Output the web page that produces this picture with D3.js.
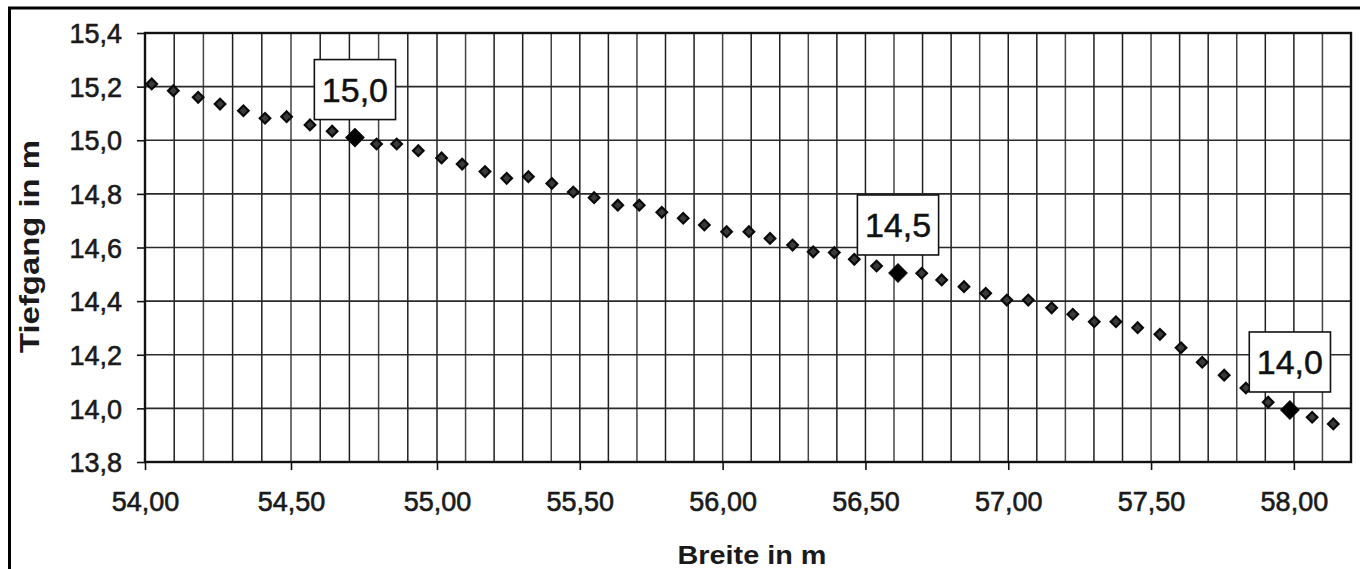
<!DOCTYPE html>
<html><head><meta charset="utf-8">
<script src="https://cdn.jsdelivr.net/npm/d3@7"></script>
<style>html,body{margin:0;padding:0;background:#fff;} svg{display:block;}</style>
</head><body>
<svg id="c" width="1360" height="569"></svg>
<script>
// ---- data ----
const breite = [54.023,54.097,54.182,54.257,54.337,54.411,54.485,54.565,54.641,54.719,
  54.793,54.862,54.936,55.016,55.088,55.168,55.244,55.320,55.402,55.477,
  55.550,55.633,55.708,55.787,55.862,55.936,56.014,56.092,56.166,56.245,
  56.317,56.391,56.461,56.539,56.614,56.697,56.767,56.845,56.921,56.995,
  57.070,57.152,57.226,57.301,57.377,57.453,57.531,57.605,57.679,57.756,
  57.832,57.910,57.986,58.064,58.138];
const tiefgang = [15.210,15.185,15.160,15.135,15.110,15.082,15.088,15.057,15.034,15.010,
  14.986,14.986,14.961,14.934,14.911,14.883,14.858,14.864,14.839,14.807,
  14.786,14.758,14.758,14.731,14.709,14.684,14.659,14.659,14.634,14.609,
  14.584,14.581,14.556,14.531,14.505,14.504,14.479,14.454,14.429,14.404,
  14.404,14.375,14.351,14.323,14.323,14.301,14.276,14.226,14.172,14.124,
  14.076,14.023,13.994,13.967,13.942];
const labelIndex = [9, 34, 52];
const labelText = ["15,0", "14,5", "14,0"];
const xTicks = [54.0, 54.5, 55.0, 55.5, 56.0, 56.5, 57.0, 57.5, 58.0];
const yTicks = [13.8, 14.0, 14.2, 14.4, 14.6, 14.8, 15.0, 15.2, 15.4];
const xGridStep = 0.1;
const xTitle = "Breite in m";
const yTitle = "Tiefgang in m";

// ---- layout ----
const L = 145, R = 1351, T = 33, B = 462;
const FONT = "'Liberation Sans', Arial, Helvetica, sans-serif";
const svg = d3.select("#c");

// outer frame (page border)
svg.append("rect").attr("x", 9.5).attr("y", 8).attr("width", 1400).attr("height", 600)
  .attr("fill", "#fff").attr("stroke", "#000").attr("stroke-width", 3);

const x = d3.scaleLinear().domain([54, 55, 58.2]).range([L, 437, R]);
const y = d3.scaleLinear().domain([13.8, 15.4]).range([B, T]);

const g = svg.append("g");

// vertical grid every 0.1
const xGrid = d3.range(Math.round((54 + xGridStep) * 10), Math.round(58.2 * 10)).map(v => v / 10);
g.append("g").selectAll("line").data(xGrid).join("line")
  .attr("x1", d => x(d)).attr("x2", d => x(d)).attr("y1", T).attr("y2", B)
  .attr("stroke", (d, i) => i % 3 === 1 ? "#444" : "#1f1f1f").attr("stroke-width", 1.5);

// horizontal grid
g.append("g").selectAll("line").data(yTicks).join("line")
  .attr("x1", L).attr("x2", R).attr("y1", d => y(d)).attr("y2", d => y(d))
  .attr("stroke", "#2a2a2a").attr("stroke-width", 1.7);

// axes
const fmtX = d => d.toFixed(2).replace(".", ",");
const fmtY = d => d.toFixed(1).replace(".", ",");

const xAxis = g.append("g").attr("transform", `translate(0,${B})`)
  .call(d3.axisBottom(x).tickValues(xTicks).tickSize(8).tickPadding(22).tickFormat(fmtX));
const yAxis = g.append("g").attr("transform", `translate(${L},0)`)
  .call(d3.axisLeft(y).tickValues(yTicks).tickSize(8).tickPadding(15).tickFormat(fmtY));
[xAxis, yAxis].forEach(a => {
  a.select(".domain").remove();
  a.selectAll(".tick line").attr("stroke", "#111").attr("stroke-width", 1.6);
  a.selectAll(".tick text").attr("fill", "#1a1a1a").attr("stroke", "#1a1a1a").attr("stroke-width", 0.6)
    .style("font-family", FONT).style("font-size", "27px");
});
yAxis.selectAll(".tick text").attr("dy", "0.36em");

// plot frame
g.append("rect").attr("x", L).attr("y", T).attr("width", R - L).attr("height", B - T)
  .attr("fill", "none").attr("stroke", "#111").attr("stroke-width", 2.4);

// points
const pts = breite.map((b, i) => ({ b, t: tiefgang[i], big: labelIndex.includes(i) }));
const sq = d3.symbol().type(d3.symbolSquare);
g.append("g").selectAll("path").data(pts).join("path")
  .attr("d", d => sq.size(d.big ? 170 : 56)())
  .attr("transform", d => `translate(${x(d.b)},${y(d.t)}) rotate(45)`)
  .attr("fill", d => d.big ? "#000" : "#3a3a3a")
  .attr("stroke", "#0a0a0a").attr("stroke-width", d => d.big ? 1 : 2.2);

// data labels
labelIndex.forEach((idx, k) => {
  const px = x(breite[idx]), py = y(tiefgang[idx]);
  const lg = g.append("g");
  const rect = lg.append("rect");
  const txt = lg.append("text").text(labelText[k])
    .attr("x", px).attr("text-anchor", "middle")
    .style("font-family", FONT).style("font-size", "34px")
    .attr("fill", "#111").attr("stroke", "#111").attr("stroke-width", 0.5);
  const w = txt.node().getComputedTextLength() + 15;
  const h = 60, bottom = py - 18;
  rect.attr("x", px - w / 2).attr("y", bottom - h).attr("width", w).attr("height", h)
    .attr("fill", "#fff").attr("stroke", "#111").attr("stroke-width", 1.6);
  txt.attr("y", bottom - h / 2 + 12);
});

// axis titles
svg.append("text").text(xTitle)
  .attr("x", (L + R) / 2 + 4).attr("y", 564).attr("text-anchor", "middle")
  .attr("textLength", 149).attr("lengthAdjust", "spacingAndGlyphs")
  .style("font-family", FONT).style("font-size", "26px").style("font-weight", "bold").attr("fill", "#1a1a1a");
svg.append("text").text(yTitle)
  .attr("transform", `translate(39,${(T + B) / 2 - 1}) rotate(-90)`).attr("text-anchor", "middle")
  .attr("textLength", 213).attr("lengthAdjust", "spacingAndGlyphs")
  .style("font-family", FONT).style("font-size", "27px").style("font-weight", "bold").attr("fill", "#1a1a1a");
</script>
</body></html>
